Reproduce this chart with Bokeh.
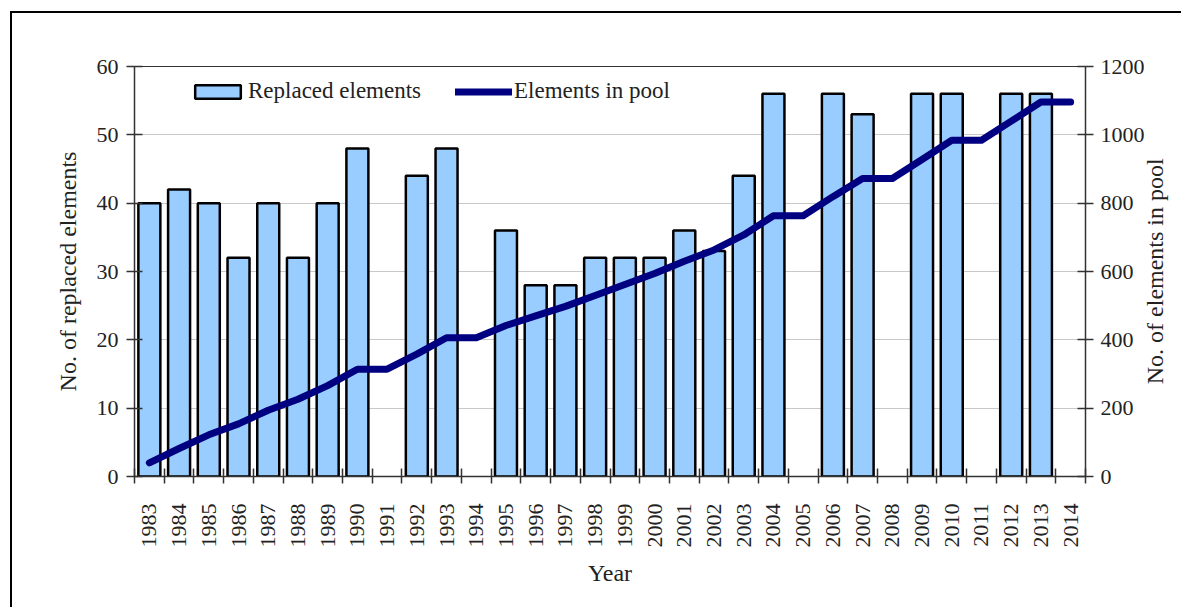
import math
from bokeh.plotting import figure
from bokeh.models import (Range1d, LinearAxis, FixedTicker, Legend, LegendItem,
                          ColumnDataSource)
from bokeh.embed import file_html
from bokeh.resources import INLINE

years = ["1983", "1984", "1985", "1986", "1987", "1988", "1989", "1990", "1991", "1992",
         "1993", "1994", "1995", "1996", "1997", "1998", "1999", "2000", "2001", "2002",
         "2003", "2004", "2005", "2006", "2007", "2008", "2009", "2010", "2011", "2012",
         "2013", "2014"]
replaced = [40, 42, 40, 32, 40, 32, 40, 48, 0, 44,
            48, 0, 36, 28, 28, 32, 32, 32, 36, 33,
            44, 56, 0, 56, 53, 0, 56, 56, 0, 56,
            56, 0]
in_pool = [40, 82, 122, 154, 194, 226, 266, 314, 314, 358,
           406, 406, 442, 470, 498, 530, 562, 594, 630, 663,
           707, 763, 763, 819, 872, 872, 928, 984, 984, 1040,
           1096, 1096]
left_ticks = [0, 10, 20, 30, 40, 50, 60]
right_ticks = [0, 200, 400, 600, 800, 1000, 1200]
right_title = "No. of elements in pool"

FONT = "Liberation Serif"
xs = list(range(len(years)))
bar_src = ColumnDataSource(dict(x=[x for x, v in zip(xs, replaced) if v > 0],
                                replaced=[v for v in replaced if v > 0]))
line_src = ColumnDataSource(dict(x=xs, pool=in_pool))

p = figure(width=1171, height=596, output_backend="svg", toolbar_location=None,
           x_range=Range1d(-0.5, len(years) - 0.5), y_range=Range1d(0, 60),
           min_border_left=122, min_border_right=98, min_border_top=53, min_border_bottom=133)
p.styles = {"border-left": "2px solid black", "border-top": "2px solid black",
            "margin-left": "10px", "margin-top": "11px"}
p.extra_y_ranges = {"pool": Range1d(0, 1200)}
p.background_fill_color = "white"
p.border_fill_color = "white"
p.outline_line_color = "#333333"
p.outline_line_width = 1

bars = p.vbar(x="x", top="replaced", width=0.74, source=bar_src, fill_color="#99CCFF",
              line_color="black", line_width=2.5)
line = p.line(x="x", y="pool", source=line_src, y_range_name="pool", line_color="#000080",
              line_width=7, line_cap="round", line_join="round")

# x axis
p.xaxis.ticker = FixedTicker(ticks=xs, minor_ticks=[i - 0.5 for i in range(len(years) + 1)])
p.xaxis.major_label_overrides = {i: y for i, y in enumerate(years)}
p.xaxis.major_label_orientation = math.pi / 2
p.xaxis.major_tick_in = 0
p.xaxis.major_tick_out = 0
p.xaxis.minor_tick_in = 8
p.xaxis.minor_tick_out = 7
p.xaxis.minor_tick_line_color = "#333333"
p.xaxis.minor_tick_line_width = 1.5
p.xaxis.major_label_standoff = 20
p.xaxis.axis_label = "Year"
p.xaxis.axis_label_standoff = 9

# left axis
p.yaxis.ticker = FixedTicker(ticks=left_ticks)
p.yaxis.axis_label = "No. of replaced elements"
p.yaxis.axis_label_standoff = 13
p.yaxis.major_tick_in = 8
p.yaxis.major_tick_out = 8
p.yaxis.minor_tick_line_color = None
p.yaxis.major_label_standoff = 8

# right axis
ra = LinearAxis(y_range_name="pool", ticker=FixedTicker(ticks=right_ticks))
ra.major_tick_in = 8
ra.major_tick_out = 8
ra.minor_tick_line_color = None
ra.major_label_standoff = 7
p.add_layout(ra, "right")

# right axis title (bottom-to-top), drawn as the single label of an extra bare axis;
# the label starts at its anchor, so the anchor sits below the middle of the axis
TITLE_ANCHOR = 270
rt = LinearAxis(y_range_name="pool", ticker=FixedTicker(ticks=[TITLE_ANCHOR]))
rt.major_label_overrides = {TITLE_ANCHOR: right_title}
rt.major_label_orientation = math.pi / 2
rt.major_tick_in = 0
rt.major_tick_out = 0
rt.minor_tick_line_color = None
rt.axis_line_color = None
rt.major_tick_line_color = None
rt.major_label_standoff = 7
rt.major_label_text_font = FONT
rt.major_label_text_font_size = "24px"
rt.major_label_text_color = "#222222"
p.add_layout(rt, "right")

for ax in [p.xaxis[0], p.yaxis[0], ra]:
    ax.axis_line_color = "#333333"
    ax.axis_line_width = 1.5
    ax.major_tick_line_color = "#333333"
    ax.major_tick_line_width = 1.5
    ax.major_label_text_font = FONT
    ax.major_label_text_font_size = "22px"
    ax.major_label_text_color = "#222222"
    ax.axis_label_text_font = FONT
    ax.axis_label_text_font_size = "24px"
    ax.axis_label_text_font_style = "normal"
    ax.axis_label_text_color = "#222222"

p.xgrid.visible = False
p.ygrid.ticker = FixedTicker(ticks=left_ticks)
p.ygrid.grid_line_color = "#C8C8C8"
p.ygrid.grid_line_width = 1

legend = Legend(items=[LegendItem(label="Replaced elements", renderers=[bars]),
                       LegendItem(label="Elements in pool", renderers=[line])],
                orientation="horizontal", location=(55, 372),
                glyph_width=57, glyph_height=17, label_standoff=2, spacing=34,
                padding=0, margin=0, border_line_color=None, background_fill_alpha=0,
                label_text_font=FONT, label_text_font_size="23px", label_text_color="#222222")
p.add_layout(legend, "center")

open("out.html", "w").write(file_html(p, INLINE))
